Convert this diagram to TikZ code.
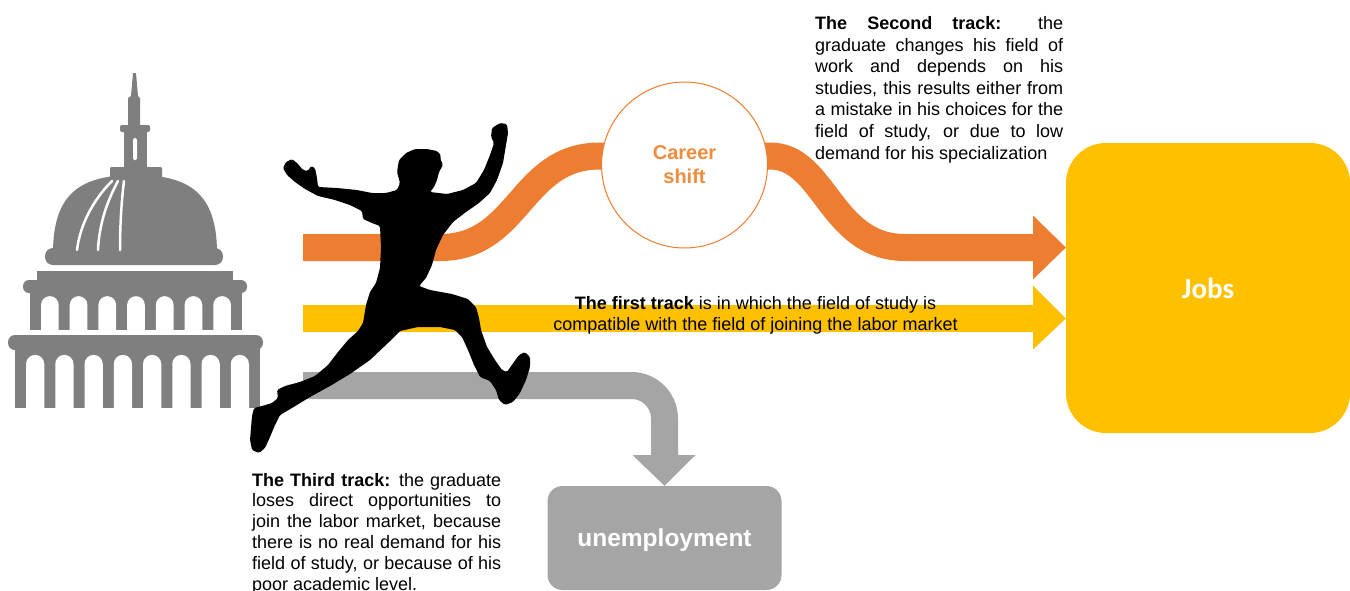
\documentclass[tikz,border=0pt]{standalone}
\usepackage{fontspec}
\setmainfont{Liberation Sans}
\newfontfamily\calibrifont{Carlito}
\usetikzlibrary{calc}

\definecolor{trackorange}{HTML}{ED7D31}
\definecolor{trackyellow}{HTML}{FFC000}
\definecolor{trackgray}{HTML}{A5A5A5}
\definecolor{capitolgray}{HTML}{7F7F7F}
\definecolor{shiftorange}{HTML}{F08C3C}

\tolerance=10000
\hyphenpenalty=10000

\begin{document}
\begin{tikzpicture}[x=1pt,y=-1pt,
  band/.style={line width=27pt},
  note/.style={inner sep=0pt, anchor=north west, align=justify,
    font=\fontsize{18}{21.6}\selectfont},
  goalbox/.style={rounded corners=40pt, fill=trackyellow, minimum width=284pt,
    minimum height=290pt, text=white, text depth=0pt,
    font=\calibrifont\bfseries\fontsize{29}{31}\selectfont},
  lossbox/.style={rounded corners=15pt, fill=trackgray, minimum width=234pt,
    minimum height=104pt, text=white, text depth=0pt,
    font=\bfseries\fontsize{24.5}{28}\selectfont},
  shiftcircle/.style={circle, draw=trackorange, line width=1pt, fill=white,
    minimum size=166pt, inner sep=0pt},
  rib/.style={white, line width=2.5pt, line cap=round}
]
\useasboundingbox (0,0) rectangle (1350,590);
\fill[white] (0,0) rectangle (1350,590);

% ---------- capitol building ----------
\begin{scope}[capitolgray]
  % spire and lantern
  \fill (133,73) -- (136,73) -- (138,96) -- (140,98) -- (140,126) -- (128,126)
        -- (128,98) -- (131,96) -- cycle;
  \fill[rounded corners=2pt] (120,125) rectangle (150,132);
  \fill (124,131) rectangle (147,168);
  \fill[rounded corners=1pt] (110,167) rectangle (162,178);
  % dome
  \fill (53,253) .. controls (53,192) and (82,175) .. (135,175)
        .. controls (188,175) and (217,192) .. (217,253) -- cycle;
  \fill[rounded corners=8pt] (45,248) rectangle (223,265);
  % drum and upper cornice
  \fill (37,271) rectangle (233,283);
  \fill[rounded corners=6pt] (23,280) rectangle (247,293);
  % upper colonnade
  \fill (30,292) rectangle (242,330);
  % lower cornice and colonnade
  \fill[rounded corners=7pt] (8,335) rectangle (263,350);
  \fill (15,349) rectangle (260,408);
\end{scope}
% lantern window and dome ribs
\fill[white, rounded corners=1.5pt] (133,138) rectangle (137,160);
\draw[rib] (112,181) .. controls (93,200) and (80,225) .. (77,250);
\draw[rib] (118,181) .. controls (105,205) and (99,228) .. (98,250);
\draw[rib] (124,181) .. controls (121,205) and (120,230) .. (120,250);
% arched openings of the two colonnades
\foreach \i in {0,...,6}{
  \pgfmathsetmacro{\xa}{41+\i*28.71}
  \pgfmathsetmacro{\xb}{\xa+17.71}
  \fill[white] (\xa,331) -- (\xa,305) arc[start angle=180, end angle=360, radius=8.855]
     -- (\xb,331) -- cycle;
}
\foreach \i in {0,...,7}{
  \pgfmathsetmacro{\xa}{26+\i*29.25}
  \pgfmathsetmacro{\xb}{\xa+18.25}
  \fill[white] (\xa,409) -- (\xa,364) arc[start angle=180, end angle=360, radius=9.125]
     -- (\xb,409) -- cycle;
}

% ---------- destinations ----------
\node[goalbox] (jobs) at (1208,288) {Jobs};
\node[lossbox] (unemp) at (664.5,538) {unemployment};

% ---------- track start and end points ----------
\coordinate (oStart) at (303,247.5);
\coordinate (oEnd)   at (1034,247.5);
\coordinate (yStart) at (303,318.5);
\coordinate (yEnd)   at (1034,318.5);
\coordinate (gStart) at (303,385.5);
\coordinate (gEnd)   at (664.5,456);

% second track: curved orange band through the career shift
\draw[band, trackorange] (oStart) -- (440,247.5)
   .. controls (520,247.5) and (520,156) .. (600,156) -- (770,156)
   .. controls (825,156) and (830,247.5) .. (905,247.5) -- (oEnd);
\fill[trackorange] ($(oEnd)+(-1,-32)$) -- (jobs.west |- oEnd) -- ($(oEnd)+(-1,32)$) -- cycle;

% first track: straight yellow band
\draw[band, trackyellow] (yStart) -- (yEnd);
\fill[trackyellow] ($(yEnd)+(-1,-33)$) -- (jobs.west |- yEnd) -- ($(yEnd)+(-1,31)$) -- cycle;

% third track: grey band bending down to unemployment
\draw[band, trackgray, rounded corners=33pt] (gStart) -- (gStart -| gEnd) -- (gEnd);
\fill[trackgray] ($(gEnd)+(-32,-1)$) -- (unemp.north) -- ($(gEnd)+(31,-1)$) -- cycle;

% career shift circle
\node[shiftcircle] (shift) at (684.5,165) {};
\node[inner sep=0pt, anchor=north, align=center, text=shiftorange,
      font=\bfseries\fontsize{20}{24}\selectfont] (shiftlabel) at (684.5,145.6) {Career\\shift};

% ---------- jumping graduate ----------
\fill[black, rounded corners=1.5pt]
  (283,168) -- (286,162) -- (292,159) -- (297,163) -- (303,170) -- (308,171)
  -- (311,166) -- (315,168) -- (317,178) -- (318,187) -- (337,188) -- (357,190)
  -- (372,193) -- (386,193) -- (397,190)
  -- (400,183) -- (397,172) -- (399,160) -- (406,153) -- (415,149) -- (427,149)
  -- (437,151) -- (441,155) -- (440,158) -- (443,165) -- (439,172) -- (437,180)
  -- (434,187) -- (430,192) -- (447,194) -- (463,190)
  -- (476,183) -- (484,170) -- (490,155) -- (494,143) -- (491,137) -- (492,128)
  -- (500,123) -- (507,124) -- (508,133) -- (506,145) -- (503,163) -- (497,180)
  -- (490,193) -- (479,203) -- (466,212) -- (453,222)
  -- (443,235) -- (436,250) -- (432,265) -- (426,278) -- (419,286)
  -- (430,290) -- (452,294) -- (468,299) -- (476,307) -- (479,318) -- (481,330)
  -- (487,347) -- (495,360) -- (502,370) -- (507,372) -- (514,362) -- (519,355)
  -- (525,352) -- (530,357) -- (530,367) -- (526,380) -- (520,393) -- (513,402)
  -- (505,405) -- (499,400) -- (496,390) -- (490,381) -- (480,377) -- (474,365)
  -- (468,350) -- (462,337) -- (455,330) -- (440,327) -- (418,327) -- (400,331)
  -- (388,343) -- (370,360) -- (350,374) -- (330,386) -- (310,397) -- (292,408)
  -- (280,415)
  -- (275,425) -- (270,437) -- (265,448) -- (259,453) -- (252,450) -- (250,440)
  -- (251,428) -- (252,416) -- (254,408) -- (262,406) -- (272,403) -- (278,398)
  -- (277,390) -- (285,386)
  -- (300,382) -- (315,376) -- (328,365) -- (338,352) -- (348,340) -- (358,331)
  -- (363,323)
  -- (366,305) -- (370,292) -- (376,283) -- (380,268) -- (381,248) -- (380,226)
  -- (372,223) -- (363,219) -- (362,211) -- (350,205) -- (335,200) -- (318,196)
  -- (305,189) -- (295,182) -- (287,175) -- cycle;

% ---------- explanatory texts ----------
\node[note, text width=248pt] (second) at (815,16.2) {\noindent
  \textbf{The Second track:} the\linebreak
  graduate changes his field of\linebreak
  work and depends on his\linebreak
  studies, this results either from\linebreak
  a mistake in his choices for the\linebreak
  field of study, or due to low\linebreak
  demand for his specialization};

\node[inner sep=0pt, anchor=north, align=center,
      font=\fontsize{18}{21}\selectfont] (first) at (755.5,296.2)
  {\textbf{The first track} is in which the field of study is\\
   compatible with the field of joining the labor market};

\node[note, text width=249pt, font=\fontsize{18}{20.8}\selectfont] (third) at (252,472.9) {\noindent
  \textbf{The Third track:} the graduate\linebreak
  loses direct opportunities to\linebreak
  join the labor market, because\linebreak
  there is no real demand for his\linebreak
  field of study, or because of his\linebreak
  poor academic level.};
\end{tikzpicture}
\end{document}
